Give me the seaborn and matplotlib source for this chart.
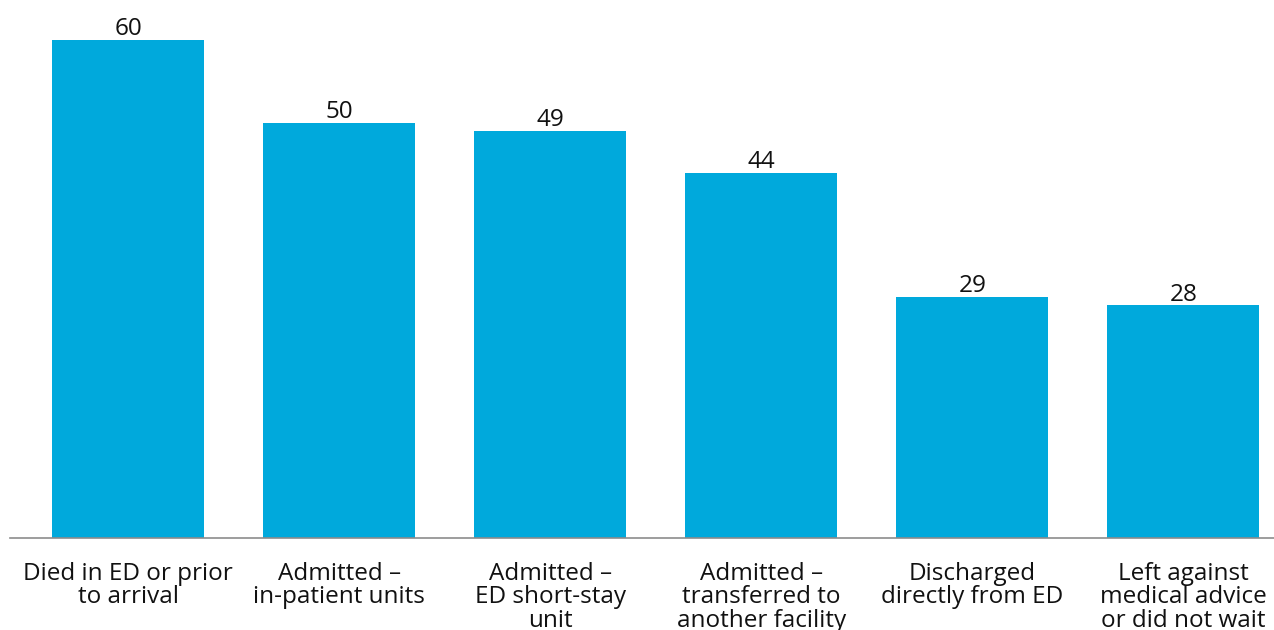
import matplotlib
matplotlib.use("Agg")
import matplotlib.pyplot as plt
import seaborn as sns
import pandas as pd

categories = [
    "Died in ED or prior\nto arrival",
    "Admitted –\nin-patient units",
    "Admitted –\nED short-stay\nunit",
    "Admitted –\ntransferred to\nanother facility",
    "Discharged\ndirectly from ED",
    "Left against\nmedical advice\nor did not wait",
]
values = [60, 50, 49, 44, 29, 28]

df = pd.DataFrame({"category": categories, "value": values})

sns.set_theme(style="white")
plt.rcParams["font.family"] = ["Open Sans", "DejaVu Sans"]

fig = plt.figure(figsize=(12.74, 6.30), dpi=100)
ax = fig.add_axes([10 / 1274, 1 - 537.5 / 630, 1 - 10 / 1274, 537.5 / 630])

sns.barplot(data=df, x="category", y="value", color="#00A9DC",
            saturation=1, width=0.72, linewidth=0, ax=ax)

for i, v in enumerate(values):
    ax.annotate(f"{v}", (i, v), xytext=(0, -1), textcoords="offset points",
                ha="center", va="bottom", fontsize=17.5, color="#111111")

ax.set_xlim(-0.56, 5.43)
ax.set_ylim(0, 64.8)
ax.set_xlabel("")
ax.set_ylabel("")
ax.set_yticks([])
for side in ["top", "right", "left"]:
    ax.spines[side].set_visible(False)
ax.spines["bottom"].set_color("#8c8c8c")
ax.spines["bottom"].set_linewidth(1.2)
ax.tick_params(axis="x", length=0, pad=17.5, labelsize=17.5, labelcolor="#111111")
for lbl in ax.get_xticklabels():
    lbl.set_linespacing(0.98)

fig.savefig("out.png", dpi=100)
